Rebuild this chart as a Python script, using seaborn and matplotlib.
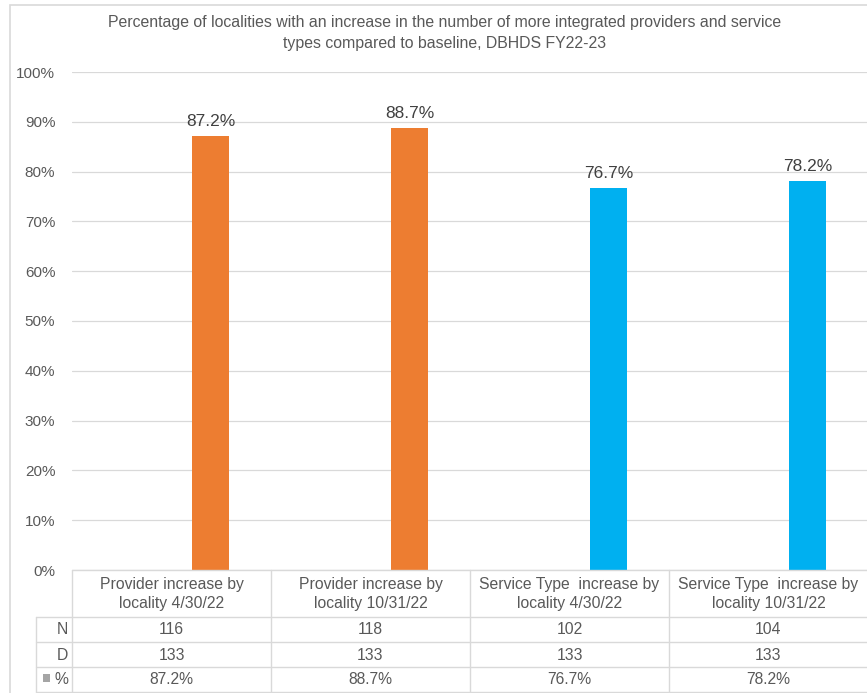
import matplotlib
matplotlib.use("Agg")
import matplotlib.pyplot as plt
import matplotlib.transforms as mtransforms
from matplotlib.patches import Rectangle
from matplotlib.lines import Line2D
from matplotlib.ticker import PercentFormatter
import seaborn as sns
import pandas as pd

# ---- data ----
categories = [
    "Provider increase by\nlocality 4/30/22",
    "Provider increase by\nlocality 10/31/22",
    "Service Type  increase by\nlocality 4/30/22",
    "Service Type  increase by\nlocality 10/31/22",
]
numerators = [116, 118, 102, 104]
denominators = [133, 133, 133, 133]
percentages = [87.2, 88.7, 76.7, 78.2]
bar_colors = ["#ED7D31", "#ED7D31", "#00B0F0", "#00B0F0"]
row_labels = ["N", "D", "%"]
title = ("Percentage of localities with an increase in the number of more integrated providers and service\n"
         "types compared to baseline, DBHDS FY22-23")

sns.set_theme(style="white")
plt.rcParams["font.family"] = ["Liberation Sans", "DejaVu Sans"]

W, H = 867, 693
TEXT = "#595959"
GRID = "#D9D9D9"

fig = plt.figure(figsize=(W / 100, H / 100), dpi=100)


def fx(x):
    return x / W


def fy(y):
    return 1 - y / H


# plot area: 0% at y=570 px, 100% at y=72 px
ax = fig.add_axes([fx(72), fy(570), fx(868) - fx(72), fy(72) - fy(570)])

# the chart is clustered with an empty leading series, so the % bars sit right of centre
series_order = ["", "%"]
df = pd.DataFrame({
    "category": categories * 2,
    "series": [series_order[0]] * len(categories) + [series_order[1]] * len(categories),
    "value": [0.0] * len(categories) + [p / 100 for p in percentages],
})
sns.barplot(data=df, x="category", y="value", hue="series", hue_order=series_order,
            palette=["#A5A5A5", "#A5A5A5"], width=0.784, gap=0.515, dodge=True,
            legend=False, saturation=1, linewidth=0, ax=ax)
for bar, color in zip(ax.containers[1], bar_colors):
    bar.set_facecolor(color)
for bar in ax.containers[0]:
    bar.set_visible(False)

ax.set_xlim(-0.5, 3.5)
ax.set_ylim(0, 1)
ax.set_yticks([i / 10 for i in range(11)])
ax.yaxis.set_major_formatter(PercentFormatter(1.0, decimals=0))
ax.tick_params(axis="y", length=0, pad=12, labelsize=11, labelcolor=TEXT)
ax.set_xticks([])
ax.set_xlabel("")
ax.set_ylabel("")
for s in ax.spines.values():
    s.set_visible(False)
ax.yaxis.grid(True, color=GRID, linewidth=0.9)
ax.set_axisbelow(True)

# value labels above bars
for bar, p in zip(ax.containers[1], percentages):
    cx = bar.get_x() + bar.get_width() / 2
    ax.annotate(f"{p:.1f}%", xy=(cx, p / 100), xytext=(0, 5), textcoords="offset points",
                ha="center", va="bottom", fontsize=12.5, color="#404040")

# title
fig.text(fx(445), fy(33), title, ha="center", va="center", fontsize=11.4,
         color=TEXT, linespacing=1.45)

# outer chart border
fig.patches.append(Rectangle((fx(10), fy(900)), fx(900), fy(5) - fy(900),
                             transform=fig.transFigure, fill=False,
                             edgecolor=GRID, linewidth=1.2))

# ---- data table below the plot ----
blend = mtransforms.blended_transform_factory(ax.transData, fig.transFigure)
table_top, header_bottom = 570, 617
row_bottoms = [642, 667, 692]
line_kw = dict(color=GRID, linewidth=1.0)

# horizontal rules
fig.add_artist(Line2D([-0.5, 3.6], [fy(table_top)] * 2, transform=blend, **line_kw))
for yb in [header_bottom] + row_bottoms:
    fig.add_artist(Line2D([fx(36), fx(900)], [fy(yb)] * 2, transform=fig.transFigure, **line_kw))
# vertical rules
for xb in [-0.5, 0.5, 1.5, 2.5]:
    fig.add_artist(Line2D([xb, xb], [fy(table_top), fy(692)], transform=blend, **line_kw))
fig.add_artist(Line2D([fx(36), fx(36)], [fy(header_bottom), fy(692)],
                      transform=fig.transFigure, **line_kw))

# category headers
for i, cat in enumerate(categories):
    fig.text(i, fy(594), cat, transform=blend, ha="center", va="center",
             fontsize=11.3, color=TEXT, linespacing=1.3)

# row values
row_centers = [630, 655, 680]
rows = [
    [str(v) for v in numerators],
    [str(v) for v in denominators],
    [f"{p:.1f}%" for p in percentages],
]
for yc, label, vals in zip(row_centers, row_labels, rows):
    fig.text(fx(68), fy(yc), label, ha="right", va="center", fontsize=11.3, color=TEXT)
    for i, v in enumerate(vals):
        fig.text(i, fy(yc), v, transform=blend, ha="center", va="center",
                 fontsize=11.3, color=TEXT)

# legend key beside the % row
fig.patches.append(Rectangle((fx(43), fy(682)), fx(7), fy(674) - fy(682),
                             transform=fig.transFigure, facecolor="#A5A5A5",
                             edgecolor="none"))

fig.savefig("out.png", dpi=100)
